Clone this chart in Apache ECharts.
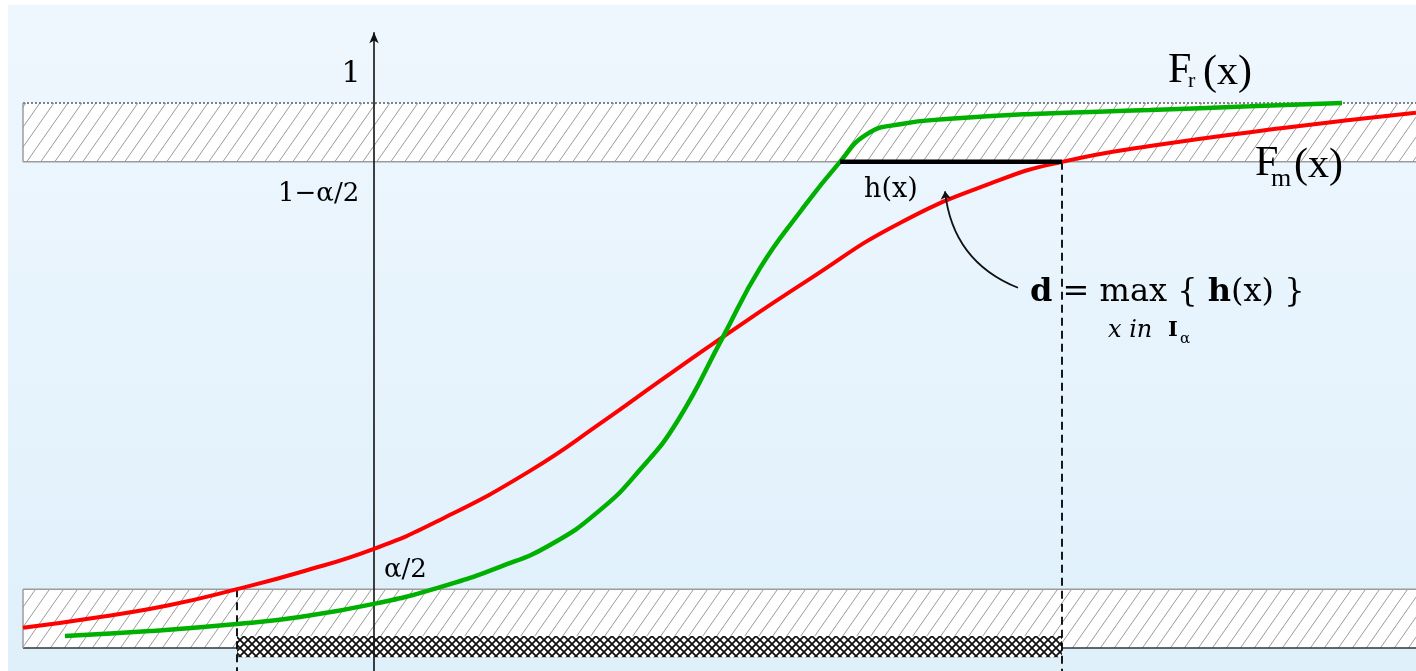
<!DOCTYPE html>
<html>
<head>
<meta charset="utf-8">
<script src="https://cdn.jsdelivr.net/npm/echarts@6/dist/echarts.min.js"></script>
<style>
  html, body { margin: 0; padding: 0; background: #ffffff; }
  #chart { width: 1416px; height: 671px; }
</style>
</head>
<body>
<div id="chart"></div>
<script>
// Half the significance level and the critical interval I_alpha on x
const alphaHalf = 0.108;
const intervalIalpha = [-1.37, 6.88];

// Model distribution F_m(x)
const modelX = [-3.51, -2.74, -2.04, -1.37, -0.74, 0, 0.66, 1.56, 2.31, 2.86, 3.49, 4.34, 5.26, 6.26, 6.88, 7.76, 9.09, 10.42];
const modelF = [0.037, 0.057, 0.079, 0.108, 0.139, 0.182, 0.235, 0.325, 0.418, 0.490, 0.571, 0.675, 0.780, 0.859, 0.892, 0.921, 0.954, 0.982];

// Reference distribution F_r(x)
const refX = [-3.09, -2.24, -1.37, -0.74, 0, 0.63, 1.26, 1.76, 2.26, 2.66, 3.04, 3.49, 3.86, 4.26, 4.66, 4.93, 5.26, 5.76, 6.59, 7.76, 8.76, 9.68];
const refF = [0.022, 0.031, 0.044, 0.057, 0.081, 0.110, 0.149, 0.189, 0.253, 0.327, 0.418, 0.571, 0.697, 0.800, 0.892, 0.943, 0.961, 0.971, 0.980, 0.987, 0.994, 1.000];

// Labels on the vertical (probability) axis
const tickLabels = ['1', '1\u2212\u03b1/2', '\u03b1/2'];

// ---- drawing extents ----
const XMIN = -3.74, XMAX = 10.42;
const YMIN = -0.0422, YMAX = 1.189;
const bandStart = -3.51;
const axisTop = 1.13;

const zip = (xs, ys) => xs.map((x, i) => [x, ys[i]]);

// Diagonal hatching used inside the confidence bands
function hatchTile() {
  const s = 14, h = 20;
  const c = document.createElement('canvas');
  c.width = s; c.height = h;
  const g = c.getContext('2d');
  g.fillStyle = '#ffffff';
  g.fillRect(0, 0, s, h);
  g.strokeStyle = '#9a9a9a';
  g.lineWidth = 1;
  g.beginPath();
  for (const dx of [-s, 0, s]) {
    g.moveTo(dx, h);
    g.lineTo(dx + s, 0);
  }
  g.stroke();
  return c;
}

// Dense cross-hatching for the critical interval strip
function crossTile() {
  const s = 8;
  const c = document.createElement('canvas');
  c.width = s; c.height = s;
  const g = c.getContext('2d');
  g.fillStyle = '#ffffff';
  g.fillRect(0, 0, s, s);
  g.strokeStyle = '#111111';
  g.lineWidth = 1.8;
  g.beginPath();
  g.moveTo(0, s); g.lineTo(s, 0);
  g.moveTo(0, 0); g.lineTo(s, s);
  g.stroke();
  return c;
}

const hatchFill = { image: hatchTile(), repeat: 'repeat' };
const crossFill = { image: crossTile(), repeat: 'repeat' };

// Bands: [xFrom, xTo, yFrom, yTo]
const bands = [
  [bandStart, XMAX + 1, 0, alphaHalf],
  [bandStart, XMAX + 1, 1 - alphaHalf, 1]
];

function renderBand(params, api) {
  const x0 = api.value(0), x1 = api.value(1), y0 = api.value(2), y1 = api.value(3);
  const tl = api.coord([x0, y1]);
  const br = api.coord([x1, y0]);
  const lower = params.dataIndex === 0;
  return {
    type: 'group',
    children: [
      { type: 'rect', shape: { x: tl[0], y: tl[1], width: br[0] - tl[0], height: br[1] - tl[1] },
        style: { fill: hatchFill, stroke: null } },
      { type: 'line', shape: { x1: tl[0], y1: tl[1], x2: br[0], y2: tl[1] },
        style: lower ? { stroke: '#9c9c9c', lineWidth: 1.5 } : { stroke: '#444', lineWidth: 1.3, lineDash: [2, 2] } },
      { type: 'line', shape: { x1: tl[0], y1: br[1], x2: br[0], y2: br[1] },
        style: lower ? { stroke: '#333', lineWidth: 1.6 } : { stroke: '#9c9c9c', lineWidth: 1.5 } },
      { type: 'line', shape: { x1: tl[0], y1: tl[1], x2: tl[0], y2: br[1] },
        style: { stroke: '#9c9c9c', lineWidth: 1.5 } }
    ]
  };
}

function renderStrip(params, api) {
  const tl = api.coord([api.value(0), api.value(3)]);
  const br = api.coord([api.value(1), api.value(2)]);
  return {
    type: 'rect',
    shape: { x: tl[0], y: tl[1], width: br[0] - tl[0], height: br[1] - tl[1] },
    style: { fill: crossFill, stroke: null }
  };
}

const chart = echarts.init(document.getElementById('chart'), null, { renderer: 'canvas' });

const serif = '"DejaVu Serif", serif';
const times = '"Liberation Serif", serif';

function txt(x, y, text, font, extra) {
  return {
    type: 'text', x: x, y: y, z: 100,
    style: Object.assign({ text: text, font: font, fill: '#000', align: 'left', verticalAlign: 'middle' }, extra || {})
  };
}

chart.setOption({
  animation: false,
  grid: { left: 0, right: 0, top: 0, bottom: 0 },
  xAxis: { type: 'value', min: XMIN, max: XMAX, show: false },
  yAxis: { type: 'value', min: YMIN, max: YMAX, show: false },
  graphic: [
    { type: 'rect', z: -100, silent: true,
      shape: { x: 8, y: 5, width: 1408, height: 666 },
      style: { fill: new echarts.graphic.LinearGradient(0, 0, 0, 1, [
        { offset: 0, color: '#eff7fe' }, { offset: 1, color: '#dff0fb' }]) } },
    txt(351, 74, tickLabels[0], '30px ' + serif, { align: 'center' }),
    txt(278, 194, tickLabels[1], '26px ' + serif),
    txt(384, 570, tickLabels[2], '26px ' + serif),
    txt(864, 190, 'h(x)', '27px ' + serif),
    // F_r(x)
    txt(1168, 71, 'F', '42px ' + times),
    txt(1188, 81, 'r', '22px ' + times),
    txt(1203, 73, '(x)', '42px ' + times),
    // F_m(x)
    txt(1255, 164, 'F', '42px ' + times),
    txt(1271, 179, 'm', '26px ' + times),
    txt(1294, 166, '(x)', '42px ' + times),
    // d = max over I_alpha of h(x)
    txt(1030, 293, '{b|d} = max { {b|h}(x) }', '32px ' + serif,
      { rich: { b: { fontWeight: 'bold', fontSize: 32, fontFamily: 'DejaVu Serif' } } }),
    txt(1108, 331, 'x in', 'italic 24px ' + serif),
    txt(1168, 331, 'I', 'bold 21px ' + serif),
    txt(1180, 339, '\u03b1', '15px ' + serif)
  ],
  series: [
    {
      type: 'custom', name: 'bands', renderItem: renderBand, data: bands, z: 1, silent: true
    },
    {
      type: 'custom', name: 'critical', renderItem: renderStrip, z: 2, silent: true,
      data: [[intervalIalpha[0], intervalIalpha[1], -0.017, 0.022]]
    },
    {
      type: 'line', name: 'guides', data: [], z: 3, silent: true,
      markLine: {
        silent: true, animation: false,
        label: { show: false },
        symbol: 'none',
        lineStyle: { color: '#000', width: 1.8, type: [8, 5] },
        data: [
          [{ coord: [intervalIalpha[0], alphaHalf] }, { coord: [intervalIalpha[0], YMIN] }],
          [{ coord: [intervalIalpha[1], 1 - alphaHalf] }, { coord: [intervalIalpha[1], YMIN] }]
        ]
      }
    },
    {
      type: 'line', name: 'F_m', data: zip(modelX, modelF), z: 5,
      smooth: 0.5, showSymbol: false, silent: true,
      lineStyle: { color: '#ff0000', width: 4 }
    },
    {
      type: 'line', name: 'F_r', data: zip(refX, refF), z: 5,
      smooth: 0.5, showSymbol: false, silent: true,
      lineStyle: { color: '#00b000', width: 4.5 }
    },
    {
      type: 'line', name: 'h', z: 6, showSymbol: false, silent: true,
      data: [[refX[14], 1 - alphaHalf], [intervalIalpha[1], 1 - alphaHalf]],
      lineStyle: { color: '#000', width: 4.5 }
    },
    {
      type: 'line', name: 'axis', data: [], z: 7, silent: true,
      markLine: {
        silent: true, animation: false,
        label: { show: false },
        symbol: ['none', 'arrow'], symbolSize: [7, 11],
        lineStyle: { color: '#111', width: 1.6, type: 'solid' },
        data: [[{ coord: [0, YMIN] }, { coord: [0, axisTop] }]]
      }
    },
    {
      type: 'lines', name: 'pointer', coordinateSystem: 'cartesian2d', z: 8, silent: true,
      symbol: ['none', 'arrow'], symbolSize: 8,
      lineStyle: { color: '#111', width: 1.8, curveness: 0.3, opacity: 1 },
      data: [{ coords: [[6.44, 0.661], [5.71, 0.838]] }]
    }
  ]
});
</script>
</body>
</html>
